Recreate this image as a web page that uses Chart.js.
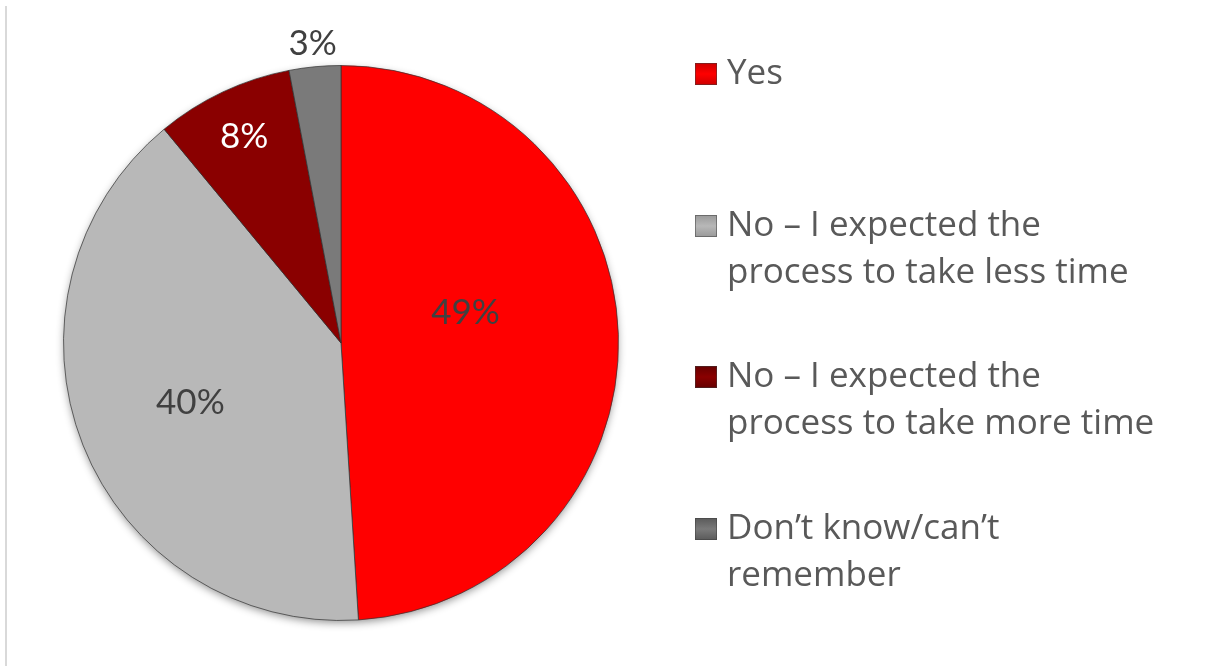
<!DOCTYPE html>
<html>
<head>
<meta charset="utf-8">
<script src="https://cdn.jsdelivr.net/npm/chart.js@4.4.1/dist/chart.umd.min.js"></script>
<style>
  html, body { margin: 0; padding: 0; background: #ffffff; }
  #wrap { position: relative; width: 1216px; height: 666px; }
  #wrap::before {
    content: ''; position: absolute; left: 5px; top: 6px; bottom: 0;
    width: 2px; background: #d9d9d9;
  }
  canvas { position: absolute; left: 0; top: 0; }
</style>
</head>
<body>
<div id="wrap"><canvas id="pie" width="1216" height="666"></canvas></div>
<script>
// Survey answers, share of respondents (%)
const answers = ['Yes', 'No – less time', 'No – more time', "Don't know"];
const shares = [49, 40, 8, 3];
const legendLines = [
  ['Yes'],
  ['No – I expected the', 'process to take less time'],
  ['No – I expected the', 'process to take more time'],
  ['Don’t know/can’t', 'remember']
];
const sliceColors = ['#ff0000', '#b8b8b8', '#8a0000', '#7a7a7a'];
const edgeColors = ['#cc0000', '#999999', '#650000', '#5a5a5a'];
const labelColors = ['#404040', '#404040', '#ffffff', '#404040'];

const LABEL_FONT = '35px Lato, sans-serif';
const LEGEND_FONT = '35px "Open Sans", sans-serif';

// per-slice label placement: fraction of radius + small nudge
const labelPlace = [
  { r: 0.46, dx: -3, dy: -26 },
  { r: 0.58, dx: -1, dy: 0 },
  { r: 0.82, dx: 0, dy: 0 },
  { r: 1.085, dx: 0, dy: 0 }
];

// radial shading so every slice has a slightly darker rim
function sliceFill(ctx) {
  const chart = ctx.chart;
  const arc = chart.getDatasetMeta(0).data[ctx.dataIndex];
  if (!arc || !arc.outerRadius) return sliceColors[ctx.dataIndex];
  const g = chart.ctx.createRadialGradient(arc.x, arc.y, 0, arc.x, arc.y, arc.outerRadius);
  g.addColorStop(0, sliceColors[ctx.dataIndex]);
  g.addColorStop(0.95, sliceColors[ctx.dataIndex]);
  g.addColorStop(1, edgeColors[ctx.dataIndex]);
  return g;
}

const pieShadow = {
  id: 'pieShadow',
  beforeDatasetsDraw(chart) {
    const arc = chart.getDatasetMeta(0).data[0];
    if (!arc) return;
    const c = chart.ctx;
    c.save();
    c.shadowColor = 'rgba(0,0,0,0.45)';
    c.shadowBlur = 9;
    c.shadowOffsetY = 3;
    c.beginPath();
    c.arc(arc.x, arc.y, arc.outerRadius - 1, 0, Math.PI * 2);
    c.fillStyle = '#888';
    c.fill();
    c.restore();
  }
};

const sliceLabels = {
  id: 'sliceLabels',
  afterDatasetsDraw(chart) {
    const c = chart.ctx;
    const meta = chart.getDatasetMeta(0);
    c.save();
    c.font = LABEL_FONT;
    c.textAlign = 'center';
    c.textBaseline = 'middle';
    meta.data.forEach((arc, i) => {
      const mid = (arc.startAngle + arc.endAngle) / 2;
      const p = labelPlace[i];
      const rr = arc.outerRadius * p.r;
      const x = arc.x + Math.cos(mid) * rr + p.dx;
      const y = arc.y + Math.sin(mid) * rr + p.dy;
      c.fillStyle = labelColors[i];
      c.fillText(shares[i] + '%', x, y);
    });
    c.restore();
  }
};

// legend on the right with wrapped entries
const sideLegend = {
  id: 'sideLegend',
  afterDraw(chart) {
    const c = chart.ctx;
    const tops = [74, 226, 377, 529];
    const lineH = 47;
    c.save();
    c.font = LEGEND_FONT;
    c.textBaseline = 'middle';
    legendLines.forEach((lines, i) => {
      const y0 = tops[i];
      const g = c.createLinearGradient(0, y0 - 11, 0, y0 + 11);
      g.addColorStop(0, edgeColors[i]);
      g.addColorStop(0.5, sliceColors[i]);
      g.addColorStop(1, edgeColors[i]);
      c.fillStyle = g;
      c.fillRect(695, y0 - 11, 22, 22);
      c.strokeStyle = 'rgba(60,60,60,0.5)';
      c.lineWidth = 1;
      c.strokeRect(695.5, y0 - 10.5, 21, 21);
      c.fillStyle = '#595959';
      lines.forEach((t, k) => c.fillText(t, 727, y0 + k * lineH));
    });
    c.restore();
  }
};

new Chart(document.getElementById('pie'), {
  type: 'pie',
  data: {
    labels: answers,
    datasets: [{
      data: shares,
      backgroundColor: sliceFill,
      borderColor: 'rgba(50,50,50,0.7)',
      borderWidth: 1
    }]
  },
  options: {
    responsive: false,
    animation: false,
    layout: { padding: { left: 63, top: 65, right: 597, bottom: 45 } },
    plugins: {
      legend: { display: false },
      tooltip: { enabled: false }
    }
  },
  plugins: [pieShadow, sliceLabels, sideLegend]
});
</script>
</body>
</html>
